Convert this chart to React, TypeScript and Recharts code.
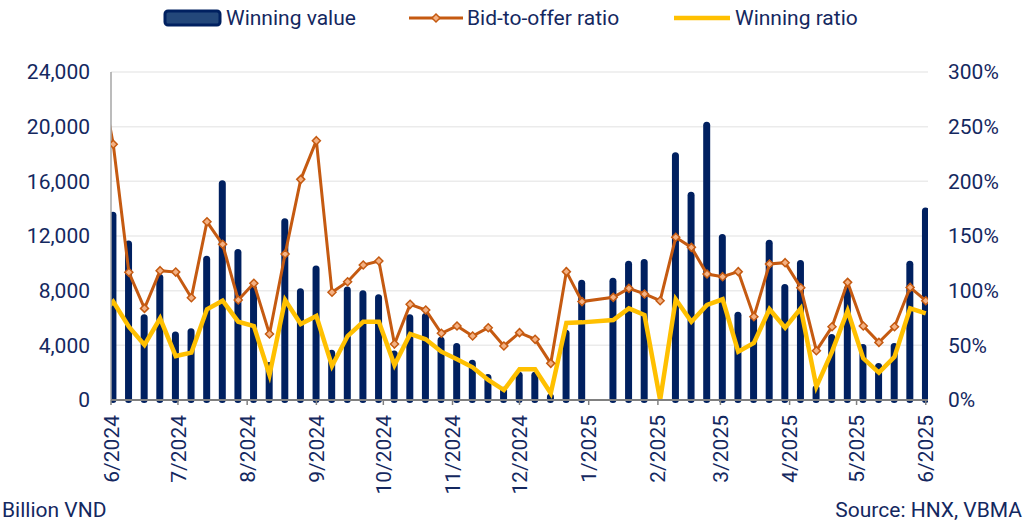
import React from 'react';
import { ComposedChart, Bar, Line, XAxis, YAxis, CartesianGrid } from 'recharts';

// days counted from 1 June 2024; the first entry is the week before the axis starts
const days = [
  -6, 1, 8, 15, 22, 29, 36, 43, 50, 57, 64, 71, 78, 85, 92, 99, 106, 113, 120, 127, 134, 141, 148,
  155, 162, 169, 176, 183, 190, 197, 204, 211, 225, 232, 239, 246, 253, 260, 267, 274, 281, 288,
  295, 302, 309, 316, 323, 330, 337, 344, 351, 358, 365,
];

// Billion VND
const winningValue = [
  null, 13700, 11600, 6200, 9150, 4930, 5170, 10490, 16000, 10980, 8300, 2700, 13220, 8100, 9760,
  3610, 8240, 7950, 7660, 3540, 6200, 6290, 4560, 4100, 2880, 1830, 900, 2000, 2000, 400, 5070,
  8730, 8880, 10120, 10240, 0, 18050, 15170, 20290, 12070, 6390, 6050, 11660, 8420, 10170, 1000,
  4760, 8290, 4020, 2630, 4100, 10120, 14020,
];

// %
const bidToOffer = [
  311, 234, 116.8, 83.8, 118.3, 117, 93.6, 163, 142.4, 91.5, 106.7, 60.4, 133.5, 201.8, 237.2, 98.5,
  108.2, 123.5, 127.1, 51.2, 87.5, 82.3, 61, 67.7, 58.5, 66.1, 49.4, 61.6, 55.5, 33.5, 117.4, 90,
  93.9, 102.1, 97, 90.8, 148.8, 139.6, 115.2, 112.8, 117.4, 76.2, 124.4, 125.6, 102.7, 45.1, 67,
  107.6, 67.7, 52.7, 67, 103, 90.8,
];

const winningRatio = [
  75, 90, 67, 50.3, 74.7, 40.2, 43.3, 83, 90.8, 71.6, 67.7, 22.9, 91.5, 69.5, 76.8, 31.1, 58.5,
  71.6, 71.6, 32, 60.4, 55.5, 44.2, 37.2, 29.9, 18.3, 9.1, 28.1, 28.1, 6.1, 70.5, 71, 73.2, 83.8,
  77.7, 0, 92.1, 71.6, 86.9, 92.1, 44.2, 52.2, 83, 66.2, 83.8, 12.2, 44.2, 81.7, 38.1, 25, 39.6,
  83.8, 79.3,
];

const monthTicks = [0, 30, 61, 92, 122, 153, 183, 214, 245, 273, 304, 334, 365];
const monthLabels = [
  '6/2024', '7/2024', '8/2024', '9/2024', '10/2024', '11/2024', '12/2024',
  '1/2025', '2/2025', '3/2025', '4/2025', '5/2025', '6/2025',
];
const valueTicks = [0, 4000, 8000, 12000, 16000, 20000, 24000];
const pctTicks = [0, 50, 100, 150, 200, 250, 300];

const data = days.map((day, i) => ({
  day,
  value: winningValue[i],
  bid: bidToOffer[i],
  win: winningRatio[i],
}));

const NAVY = '#002060';
const ORANGE = '#c55a11';
const YELLOW = '#ffc000';
const TEXT = '#14285f';
const FONT = 'Roboto, sans-serif';

function MonthTick({ x, y, payload }: any) {
  const idx = monthTicks.indexOf(payload.value);
  return (
    <g transform={`translate(${x},${y})`}>
      <text transform="rotate(-90)" textAnchor="end" dy="0.36em" fill={TEXT} fontSize={21} fontFamily={FONT}>
        {idx >= 0 ? monthLabels[idx] : ''}
      </text>
    </g>
  );
}

// rounded bar that sticks out a little below the axis, like the original
function RoundBar(props: any) {
  const { x, y, width, height } = props;
  if (!height || height <= 0) return <g />;
  return <rect x={x} y={y - 1} width={width} height={height + 4} rx={3.5} ry={3.5} fill={NAVY} />;
}

function Diamond(props: any) {
  const { cx, cy, index } = props;
  if (cx == null || cy == null) return <g key={`d-${index}`} />;
  const r = 4;
  return (
    <path
      key={`d-${index}`}
      d={`M${cx} ${cy - r} L${cx + r} ${cy} L${cx} ${cy + r} L${cx - r} ${cy} Z`}
      fill="#f4b183"
      stroke={ORANGE}
      strokeWidth={1.5}
    />
  );
}

function Overlay() {
  return (
    <svg width={1031} height={522} style={{ position: 'absolute', left: 0, top: 0, pointerEvents: 'none' }}>
      {/* legend */}
      <rect x={165} y={11} width={55} height={14} rx={3} fill="#23477a" stroke={NAVY} strokeWidth={3} />
      <text x={226} y={25} fontSize={21} fill={TEXT} fontFamily={FONT}>Winning value</text>
      <line x1={409} y1={18} x2={463} y2={18} stroke={ORANGE} strokeWidth={3} />
      <path d="M436 14 L440 18 L436 22 L432 18 Z" fill="#f4b183" stroke={ORANGE} strokeWidth={1.5} />
      <text x={467} y={25} fontSize={21} fill={TEXT} fontFamily={FONT}>Bid-to-offer ratio</text>
      <line x1={674} y1={18} x2={730} y2={18} stroke={YELLOW} strokeWidth={4.5} />
      <text x={735} y={25} fontSize={21} fill={TEXT} fontFamily={FONT}>Winning ratio</text>
      {/* notes */}
      <text x={2} y={517} fontSize={21} fill={TEXT} fontFamily={FONT}>Billion VND</text>
      <text x={1022} y={517} textAnchor="end" fontSize={21} fill={TEXT} fontFamily={FONT}>Source: HNX, VBMA</text>
    </svg>
  );
}

export default function App() {
  return (
    <div style={{ position: 'absolute', left: 0, top: 0, width: 1031, height: 522, background: '#fff', fontFamily: FONT }}>
      <ComposedChart width={1031} height={522} data={data} margin={{ top: 72, right: 0, bottom: 0, left: 0 }}>
        <CartesianGrid yAxisId="val" vertical={false} stroke="#ebebeb" strokeWidth={1.5} />
        <YAxis
          yAxisId="val"
          orientation="left"
          width={111}
          domain={[0, 24000]}
          ticks={valueTicks}
          interval={0}
          tickFormatter={(v: number) => v.toLocaleString('en-US')}
          tick={{ fill: TEXT, fontSize: 21, fontFamily: FONT }}
          axisLine={{ stroke: '#a6a6a6', strokeWidth: 1.5 }}
          tickLine={false}
          tickSize={0}
          tickMargin={21}
        />
        <YAxis
          yAxisId="pct"
          orientation="right"
          width={103}
          domain={[0, 300]}
          allowDataOverflow
          ticks={pctTicks}
          interval={0}
          tickFormatter={(v: number) => `${v}%`}
          tick={{ fill: TEXT, fontSize: 21, fontFamily: FONT }}
          axisLine={false}
          tickLine={false}
          tickSize={0}
          tickMargin={20}
        />
        <Bar
          yAxisId="val"
          dataKey="value"
          name="Winning value"
          barSize={7}
          shape={<RoundBar />}
          isAnimationActive={false}
        />
        <XAxis
          dataKey="day"
          type="number"
          domain={[0, 366]}
          allowDataOverflow
          ticks={monthTicks}
          interval={0}
          height={122}
          tick={<MonthTick />}
          axisLine={{ stroke: '#808080', strokeWidth: 2 }}
          tickLine={{ stroke: '#808080', strokeWidth: 1.5 }}
          tickSize={5}
          tickMargin={10}
        />
        <Line
          yAxisId="pct"
          dataKey="bid"
          name="Bid-to-offer ratio"
          stroke={ORANGE}
          strokeWidth={3}
          dot={<Diamond />}
          activeDot={false}
          isAnimationActive={false}
        />
        <Line
          yAxisId="pct"
          dataKey="win"
          name="Winning ratio"
          stroke={YELLOW}
          strokeWidth={4.5}
          dot={false}
          activeDot={false}
          isAnimationActive={false}
        />
      </ComposedChart>
      <Overlay />
    </div>
  );
}
